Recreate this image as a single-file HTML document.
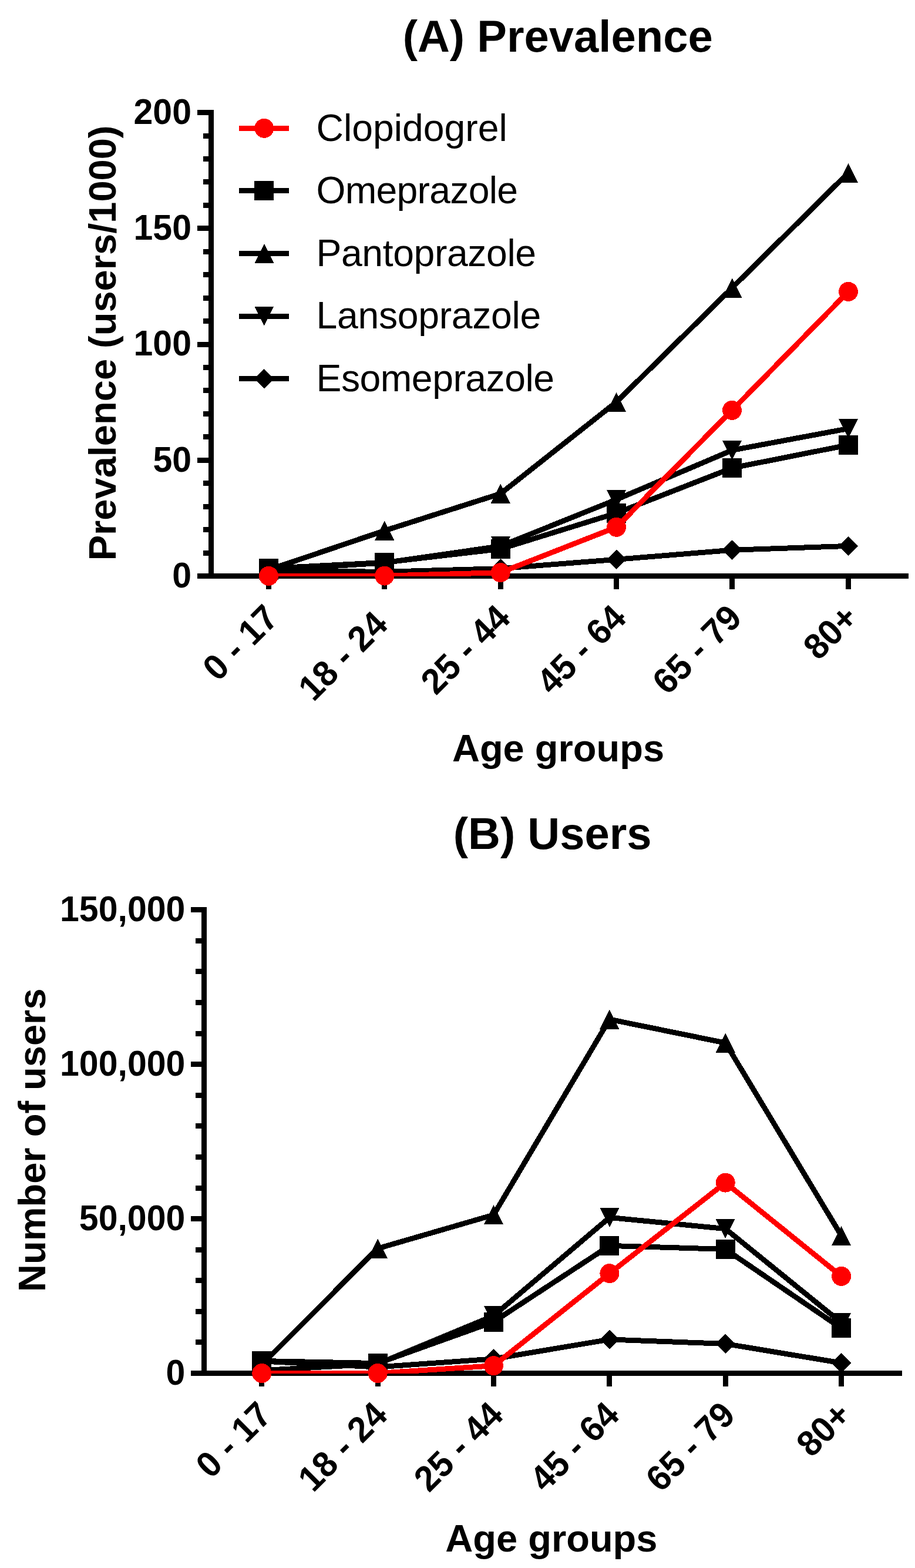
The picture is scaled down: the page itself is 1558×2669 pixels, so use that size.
<!DOCTYPE html>
<html><head><meta charset="utf-8"><title>Prevalence and users by age group</title>
<style>
html,body{margin:0;padding:0;background:#fff;}
svg{display:block;}
text{font-family:"Liberation Sans",Arial,Helvetica,sans-serif;fill:#000;}
</style></head>
<body>
<svg width="1558" height="2669" viewBox="0 0 1558 2669" shape-rendering="crispEdges">
<rect width="1558" height="2669" fill="#fff"/>
<clipPath id="clipA"><rect x="359.6" y="0" width="1198.4" height="981.1"/></clipPath>
<rect x="355.1" y="187.2" width="9.0" height="797.8" fill="#000"/>
<rect x="335.9" y="976.0" width="1211.0" height="9.0" fill="#000"/>
<rect x="335.9" y="976.0" width="23.7" height="9.0" fill="#000"/>
<rect x="335.9" y="778.8" width="23.7" height="9.0" fill="#000"/>
<rect x="335.9" y="581.5" width="23.7" height="9.0" fill="#000"/>
<rect x="335.9" y="384.3" width="23.7" height="9.0" fill="#000"/>
<rect x="335.9" y="187.1" width="23.7" height="9.0" fill="#000"/>
<rect x="345.6" y="936.6" width="14.0" height="9.0" fill="#000"/>
<rect x="345.6" y="897.1" width="14.0" height="9.0" fill="#000"/>
<rect x="345.6" y="857.7" width="14.0" height="9.0" fill="#000"/>
<rect x="345.6" y="818.2" width="14.0" height="9.0" fill="#000"/>
<rect x="345.6" y="739.3" width="14.0" height="9.0" fill="#000"/>
<rect x="345.6" y="699.9" width="14.0" height="9.0" fill="#000"/>
<rect x="345.6" y="660.4" width="14.0" height="9.0" fill="#000"/>
<rect x="345.6" y="621.0" width="14.0" height="9.0" fill="#000"/>
<rect x="345.6" y="542.1" width="14.0" height="9.0" fill="#000"/>
<rect x="345.6" y="502.7" width="14.0" height="9.0" fill="#000"/>
<rect x="345.6" y="463.2" width="14.0" height="9.0" fill="#000"/>
<rect x="345.6" y="423.8" width="14.0" height="9.0" fill="#000"/>
<rect x="345.6" y="344.9" width="14.0" height="9.0" fill="#000"/>
<rect x="345.6" y="305.4" width="14.0" height="9.0" fill="#000"/>
<rect x="345.6" y="266.0" width="14.0" height="9.0" fill="#000"/>
<rect x="345.6" y="226.5" width="14.0" height="9.0" fill="#000"/>
<rect x="453.0" y="980.5" width="9.0" height="22.5" fill="#000"/>
<rect x="650.2" y="980.5" width="9.0" height="22.5" fill="#000"/>
<rect x="847.8" y="980.5" width="9.0" height="22.5" fill="#000"/>
<rect x="1045.1" y="980.5" width="9.0" height="22.5" fill="#000"/>
<rect x="1242.0" y="980.5" width="9.0" height="22.5" fill="#000"/>
<rect x="1440.0" y="980.5" width="9.0" height="22.5" fill="#000"/>
<text x="0" y="0" font-size="59" font-weight="bold" text-anchor="end" transform="translate(326.0 999.8) scale(1 1.035)">0</text>
<text x="0" y="0" font-size="59" font-weight="bold" text-anchor="end" transform="translate(326.0 802.6) scale(1 1.035)">50</text>
<text x="0" y="0" font-size="59" font-weight="bold" text-anchor="end" transform="translate(326.0 605.3) scale(1 1.035)">100</text>
<text x="0" y="0" font-size="59" font-weight="bold" text-anchor="end" transform="translate(326.0 408.1) scale(1 1.035)">150</text>
<text x="0" y="0" font-size="59" font-weight="bold" text-anchor="end" transform="translate(326.0 210.9) scale(1 1.035)">200</text>
<text x="0" y="0" font-size="59" font-weight="bold" text-anchor="end" transform="translate(477.3 1055.2) rotate(-45) scale(1 1.035)">0 - 17</text>
<text x="0" y="0" font-size="59" font-weight="bold" text-anchor="end" transform="translate(663.5 1066.2) rotate(-45) scale(1 1.035)">18 - 24</text>
<text x="0" y="0" font-size="59" font-weight="bold" text-anchor="end" transform="translate(872.1 1055.2) rotate(-45) scale(1 1.035)">25 - 44</text>
<text x="0" y="0" font-size="59" font-weight="bold" text-anchor="end" transform="translate(1069.4 1055.2) rotate(-45) scale(1 1.035)">45 - 64</text>
<text x="0" y="0" font-size="59" font-weight="bold" text-anchor="end" transform="translate(1266.3 1055.2) rotate(-45) scale(1 1.035)">65 - 79</text>
<text x="0" y="0" font-size="59" font-weight="bold" text-anchor="end" transform="translate(1464.3 1055.2) rotate(-45) scale(1 1.035)">80+</text>
<text x="949.7" y="87.8" font-size="76" font-weight="bold" text-anchor="middle">(A) Prevalence</text>
<text x="950.5" y="1296.1" font-size="65" font-weight="bold" text-anchor="middle">Age groups</text>
<text x="196.7" y="583.9" font-size="65" font-weight="bold" text-anchor="middle" transform="rotate(-90 196.7 583.9)">Prevalence (users/1000)</text>
<polyline points="457.5,967.5 654.7,957.4 852.3,934.4 1049.6,873.4 1246.5,796.6 1444.5,757.4" fill="none" stroke="#000" stroke-width="9.0" stroke-linejoin="miter" stroke-miterlimit="4" clip-path="url(#clipA)"/>
<rect x="441.0" y="951.0" width="33.0" height="33.0" fill="#000"/>
<rect x="638.2" y="940.9" width="33.0" height="33.0" fill="#000"/>
<rect x="835.8" y="917.9" width="33.0" height="33.0" fill="#000"/>
<rect x="1033.1" y="856.9" width="33.0" height="33.0" fill="#000"/>
<rect x="1230.0" y="780.1" width="33.0" height="33.0" fill="#000"/>
<rect x="1428.0" y="740.9" width="33.0" height="33.0" fill="#000"/>
<polyline points="457.5,970.0 654.7,903.3 852.3,840.3 1049.6,684.3 1246.5,490.0 1444.5,294.1" fill="none" stroke="#000" stroke-width="9.0" stroke-linejoin="miter" stroke-miterlimit="4" clip-path="url(#clipA)"/>
<polygon points="457.5,953.5 474.0,986.5 441.0,986.5" fill="#000"/>
<polygon points="654.7,886.8 671.2,919.8 638.2,919.8" fill="#000"/>
<polygon points="852.3,823.8 868.8,856.8 835.8,856.8" fill="#000"/>
<polygon points="1049.6,667.8 1066.1,700.8 1033.1,700.8" fill="#000"/>
<polygon points="1246.5,473.5 1263.0,506.5 1230.0,506.5" fill="#000"/>
<polygon points="1444.5,277.6 1461.0,310.6 1428.0,310.6" fill="#000"/>
<polyline points="457.5,970.5 654.7,958.0 852.3,929.6 1049.6,850.3 1246.5,766.4 1444.5,729.5" fill="none" stroke="#000" stroke-width="9.0" stroke-linejoin="miter" stroke-miterlimit="4" clip-path="url(#clipA)"/>
<polygon points="441.0,954.0 474.0,954.0 457.5,987.0" fill="#000"/>
<polygon points="638.2,941.5 671.2,941.5 654.7,974.5" fill="#000"/>
<polygon points="835.8,913.1 868.8,913.1 852.3,946.1" fill="#000"/>
<polygon points="1033.1,833.8 1066.1,833.8 1049.6,866.8" fill="#000"/>
<polygon points="1230.0,749.9 1263.0,749.9 1246.5,782.9" fill="#000"/>
<polygon points="1428.0,713.0 1461.0,713.0 1444.5,746.0" fill="#000"/>
<polyline points="457.5,971.5 654.7,973.3 852.3,967.7 1049.6,952.3 1246.5,936.3 1444.5,929.4" fill="none" stroke="#000" stroke-width="9.0" stroke-linejoin="miter" stroke-miterlimit="4" clip-path="url(#clipA)"/>
<polygon points="457.5,954.7 474.3,971.5 457.5,988.3 440.7,971.5" fill="#000"/>
<polygon points="654.7,956.5 671.5,973.3 654.7,990.1 637.9,973.3" fill="#000"/>
<polygon points="852.3,950.9 869.1,967.7 852.3,984.5 835.5,967.7" fill="#000"/>
<polygon points="1049.6,935.5 1066.4,952.3 1049.6,969.1 1032.8,952.3" fill="#000"/>
<polygon points="1246.5,919.5 1263.3,936.3 1246.5,953.1 1229.7,936.3" fill="#000"/>
<polygon points="1444.5,912.6 1461.3,929.4 1444.5,946.2 1427.7,929.4" fill="#000"/>
<polyline points="457.5,980.4 654.7,980.1 852.3,974.6 1049.6,897.3 1246.5,698.4 1444.5,496.4" fill="none" stroke="#ff0000" stroke-width="9.0" stroke-linejoin="miter" stroke-miterlimit="4" clip-path="url(#clipA)"/>
<circle cx="457.5" cy="980.4" r="16.5" fill="#ff0000"/>
<circle cx="654.7" cy="980.1" r="16.5" fill="#ff0000"/>
<circle cx="852.3" cy="974.6" r="16.5" fill="#ff0000"/>
<circle cx="1049.6" cy="897.3" r="16.5" fill="#ff0000"/>
<circle cx="1246.5" cy="698.4" r="16.5" fill="#ff0000"/>
<circle cx="1444.5" cy="496.4" r="16.5" fill="#ff0000"/>
<rect x="407.0" y="213.8" width="85.1" height="9.0" fill="#ff0000"/>
<circle cx="449.8" cy="218.3" r="16.5" fill="#ff0000"/>
<text x="538.5" y="239.5" font-size="64.3" font-weight="normal" text-anchor="start">Clopidogrel</text>
<rect x="407.0" y="320.4" width="85.1" height="9.0" fill="#000"/>
<rect x="433.3" y="308.4" width="33.0" height="33.0" fill="#000"/>
<text x="538.5" y="346.1" font-size="64.3" font-weight="normal" text-anchor="start" textLength="343.55" lengthAdjust="spacing">Omeprazole</text>
<rect x="407.0" y="427.0" width="85.1" height="9.0" fill="#000"/>
<polygon points="449.8,415.0 466.3,448.0 433.3,448.0" fill="#000"/>
<text x="538.5" y="452.7" font-size="64.3" font-weight="normal" text-anchor="start" textLength="374.55" lengthAdjust="spacing">Pantoprazole</text>
<rect x="407.0" y="533.6" width="85.1" height="9.0" fill="#000"/>
<polygon points="433.3,521.6 466.3,521.6 449.8,554.6" fill="#000"/>
<text x="538.5" y="559.3" font-size="64.3" font-weight="normal" text-anchor="start" textLength="382.81" lengthAdjust="spacing">Lansoprazole</text>
<rect x="407.0" y="640.2" width="85.1" height="9.0" fill="#000"/>
<polygon points="449.8,627.9 466.6,644.7 449.8,661.5 433.0,644.7" fill="#000"/>
<text x="538.5" y="665.9" font-size="64.3" font-weight="normal" text-anchor="start" textLength="405.55" lengthAdjust="spacing">Esomeprazole</text>
<clipPath id="clipB"><rect x="347.4" y="0" width="1210.6" height="2338.0"/></clipPath>
<rect x="342.9" y="1544.0" width="9.0" height="797.9" fill="#000"/>
<rect x="324.9" y="2332.9" width="1211.2" height="9.0" fill="#000"/>
<rect x="324.9" y="2332.9" width="22.5" height="9.0" fill="#000"/>
<rect x="324.9" y="2070.0" width="22.5" height="9.0" fill="#000"/>
<rect x="324.9" y="1807.2" width="22.5" height="9.0" fill="#000"/>
<rect x="324.9" y="1544.3" width="22.5" height="9.0" fill="#000"/>
<rect x="333.4" y="2280.3" width="14.0" height="9.0" fill="#000"/>
<rect x="333.4" y="2227.8" width="14.0" height="9.0" fill="#000"/>
<rect x="333.4" y="2175.2" width="14.0" height="9.0" fill="#000"/>
<rect x="333.4" y="2122.6" width="14.0" height="9.0" fill="#000"/>
<rect x="333.4" y="2017.5" width="14.0" height="9.0" fill="#000"/>
<rect x="333.4" y="1964.9" width="14.0" height="9.0" fill="#000"/>
<rect x="333.4" y="1912.3" width="14.0" height="9.0" fill="#000"/>
<rect x="333.4" y="1859.7" width="14.0" height="9.0" fill="#000"/>
<rect x="333.4" y="1754.6" width="14.0" height="9.0" fill="#000"/>
<rect x="333.4" y="1702.0" width="14.0" height="9.0" fill="#000"/>
<rect x="333.4" y="1649.4" width="14.0" height="9.0" fill="#000"/>
<rect x="333.4" y="1596.9" width="14.0" height="9.0" fill="#000"/>
<rect x="441.3" y="2337.4" width="9.0" height="22.5" fill="#000"/>
<rect x="638.7" y="2337.4" width="9.0" height="22.5" fill="#000"/>
<rect x="836.0" y="2337.4" width="9.0" height="22.5" fill="#000"/>
<rect x="1033.4" y="2337.4" width="9.0" height="22.5" fill="#000"/>
<rect x="1230.7" y="2337.4" width="9.0" height="22.5" fill="#000"/>
<rect x="1428.1" y="2337.4" width="9.0" height="22.5" fill="#000"/>
<text x="0" y="0" font-size="59" font-weight="bold" text-anchor="end" transform="translate(315.3 2356.7) scale(1 1.035)">0</text>
<text x="0" y="0" font-size="59" font-weight="bold" text-anchor="end" transform="translate(315.3 2093.8) scale(1 1.035)">50,000</text>
<text x="0" y="0" font-size="59" font-weight="bold" text-anchor="end" transform="translate(315.3 1831.0) scale(1 1.035)">100,000</text>
<text x="0" y="0" font-size="59" font-weight="bold" text-anchor="end" transform="translate(315.3 1568.1) scale(1 1.035)">150,000</text>
<text x="0" y="0" font-size="59" font-weight="bold" text-anchor="end" transform="translate(465.6 2412.1) rotate(-45) scale(1 1.035)">0 - 17</text>
<text x="0" y="0" font-size="59" font-weight="bold" text-anchor="end" transform="translate(663.0 2412.1) rotate(-45) scale(1 1.035)">18 - 24</text>
<text x="0" y="0" font-size="59" font-weight="bold" text-anchor="end" transform="translate(860.3 2412.1) rotate(-45) scale(1 1.035)">25 - 44</text>
<text x="0" y="0" font-size="59" font-weight="bold" text-anchor="end" transform="translate(1057.7 2412.1) rotate(-45) scale(1 1.035)">45 - 64</text>
<text x="0" y="0" font-size="59" font-weight="bold" text-anchor="end" transform="translate(1255.0 2412.1) rotate(-45) scale(1 1.035)">65 - 79</text>
<text x="0" y="0" font-size="59" font-weight="bold" text-anchor="end" transform="translate(1452.4 2412.1) rotate(-45) scale(1 1.035)">80+</text>
<text x="940.7" y="1444.8" font-size="76" font-weight="bold" text-anchor="middle">(B) Users</text>
<text x="938.9" y="2641.2" font-size="65" font-weight="bold" text-anchor="middle">Age groups</text>
<text x="77.0" y="1940.7" font-size="65" font-weight="bold" text-anchor="middle" transform="rotate(-90 77.0 1940.7)">Number of users</text>
<polyline points="445.8,2316.5 643.2,2320.6 840.5,2250.0 1037.9,2120.4 1235.2,2126.4 1432.6,2260.9" fill="none" stroke="#000" stroke-width="9.0" stroke-linejoin="miter" stroke-miterlimit="4" clip-path="url(#clipB)"/>
<rect x="429.3" y="2300.0" width="33.0" height="33.0" fill="#000"/>
<rect x="626.7" y="2304.1" width="33.0" height="33.0" fill="#000"/>
<rect x="824.0" y="2233.5" width="33.0" height="33.0" fill="#000"/>
<rect x="1021.4" y="2103.9" width="33.0" height="33.0" fill="#000"/>
<rect x="1218.7" y="2109.9" width="33.0" height="33.0" fill="#000"/>
<rect x="1416.1" y="2244.4" width="33.0" height="33.0" fill="#000"/>
<polyline points="445.8,2322.7 643.2,2125.1 840.5,2067.9 1037.9,1735.1 1235.2,1775.2 1432.6,2103.3" fill="none" stroke="#000" stroke-width="9.0" stroke-linejoin="miter" stroke-miterlimit="4" clip-path="url(#clipB)"/>
<polygon points="445.8,2306.2 462.3,2339.2 429.3,2339.2" fill="#000"/>
<polygon points="643.2,2108.6 659.7,2141.6 626.7,2141.6" fill="#000"/>
<polygon points="840.5,2051.4 857.0,2084.4 824.0,2084.4" fill="#000"/>
<polygon points="1037.9,1718.6 1054.4,1751.6 1021.4,1751.6" fill="#000"/>
<polygon points="1235.2,1758.7 1251.7,1791.7 1218.7,1791.7" fill="#000"/>
<polygon points="1432.6,2086.8 1449.1,2119.8 1416.1,2119.8" fill="#000"/>
<polyline points="445.8,2332.7 643.2,2321.6 840.5,2239.6 1037.9,2072.4 1235.2,2091.6 1432.6,2251.5" fill="none" stroke="#000" stroke-width="9.0" stroke-linejoin="miter" stroke-miterlimit="4" clip-path="url(#clipB)"/>
<polygon points="429.3,2316.2 462.3,2316.2 445.8,2349.2" fill="#000"/>
<polygon points="626.7,2305.1 659.7,2305.1 643.2,2338.1" fill="#000"/>
<polygon points="824.0,2223.1 857.0,2223.1 840.5,2256.1" fill="#000"/>
<polygon points="1021.4,2055.9 1054.4,2055.9 1037.9,2088.9" fill="#000"/>
<polygon points="1218.7,2075.1 1251.7,2075.1 1235.2,2108.1" fill="#000"/>
<polygon points="1416.1,2235.0 1449.1,2235.0 1432.6,2268.0" fill="#000"/>
<polyline points="445.8,2317.0 643.2,2327.0 840.5,2313.0 1037.9,2280.0 1235.2,2287.4 1432.6,2320.0" fill="none" stroke="#000" stroke-width="9.0" stroke-linejoin="miter" stroke-miterlimit="4" clip-path="url(#clipB)"/>
<polygon points="445.8,2300.2 462.6,2317.0 445.8,2333.8 429.0,2317.0" fill="#000"/>
<polygon points="643.2,2310.2 660.0,2327.0 643.2,2343.8 626.4,2327.0" fill="#000"/>
<polygon points="840.5,2296.2 857.3,2313.0 840.5,2329.8 823.7,2313.0" fill="#000"/>
<polygon points="1037.9,2263.2 1054.7,2280.0 1037.9,2296.8 1021.1,2280.0" fill="#000"/>
<polygon points="1235.2,2270.6 1252.0,2287.4 1235.2,2304.2 1218.4,2287.4" fill="#000"/>
<polygon points="1432.6,2303.2 1449.4,2320.0 1432.6,2336.8 1415.8,2320.0" fill="#000"/>
<polyline points="445.8,2337.5 643.2,2337.5 840.5,2324.7 1037.9,2167.6 1235.2,2013.1 1432.6,2172.4" fill="none" stroke="#ff0000" stroke-width="9.0" stroke-linejoin="miter" stroke-miterlimit="4" clip-path="url(#clipB)"/>
<circle cx="445.8" cy="2337.5" r="16.5" fill="#ff0000"/>
<circle cx="643.2" cy="2337.5" r="16.5" fill="#ff0000"/>
<circle cx="840.5" cy="2324.7" r="16.5" fill="#ff0000"/>
<circle cx="1037.9" cy="2167.6" r="16.5" fill="#ff0000"/>
<circle cx="1235.2" cy="2013.1" r="16.5" fill="#ff0000"/>
<circle cx="1432.6" cy="2172.4" r="16.5" fill="#ff0000"/>
</svg>
</body></html>
